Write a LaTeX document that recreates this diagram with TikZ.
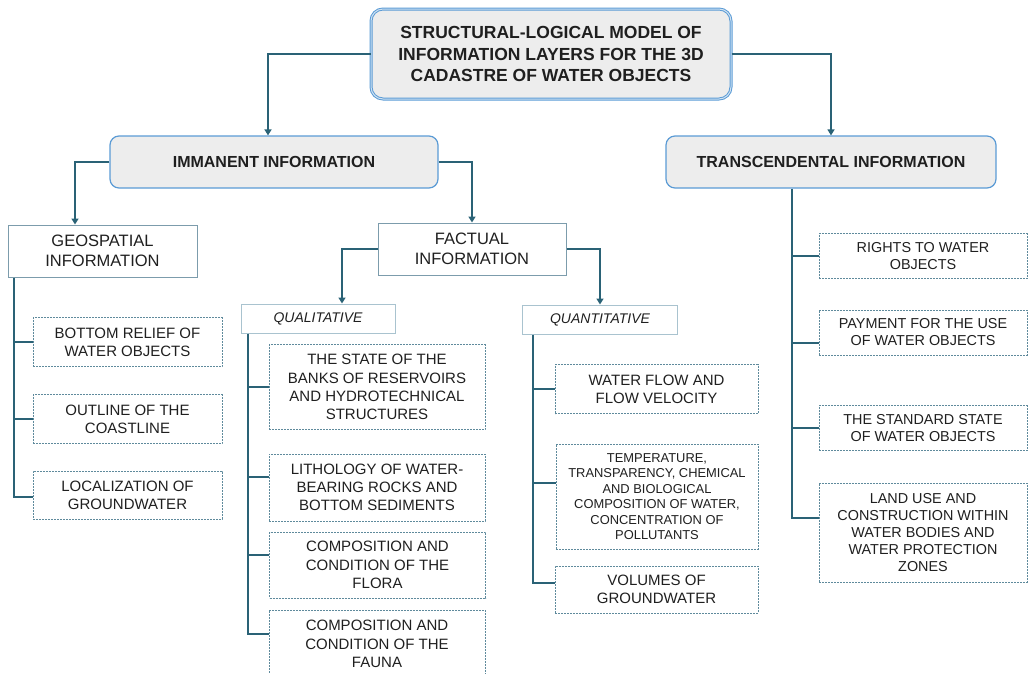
\documentclass[tikz,border=0pt]{standalone}
\usepackage{fontspec}
\setmainfont{Liberation Sans}
\usetikzlibrary{arrows.meta}
\definecolor{conn}{HTML}{2A6276}
\definecolor{topblue}{HTML}{5B9BD5}
\definecolor{topfill}{HTML}{EDEDED}
\definecolor{txt}{HTML}{1F1F1F}
\definecolor{dashc}{HTML}{5F8A9C}
\definecolor{solidc}{HTML}{7C9CAC}
\definecolor{lightc}{HTML}{A9C3CF}
\begin{document}
\begin{tikzpicture}[x=1pt,y=-1pt,
  every node/.style={inner sep=0pt, align=center, text=txt},
  titlebox/.style={draw=topblue, double=topblue!30!white, double distance=1pt, line width=1pt, fill=topfill, rounded corners=12pt, font=\fontsize{17.5}{21.5}\selectfont\bfseries},
  headbox/.style={draw=topblue, line width=1.2pt, fill=topfill, rounded corners=9pt, font=\fontsize{16}{19}\selectfont\bfseries},
  midbox/.style={draw=solidc, line width=1pt, font=\fontsize{16.5}{20}\selectfont},
  subbox/.style={draw=lightc, line width=1pt, font=\fontsize{14}{17}\selectfont\itshape},
  leafbox/.style={draw=dashc, line width=0.9pt, dash pattern=on 2pt off 1pt, font=\fontsize{15}{18.3}\selectfont},
  rleaf/.style={draw=dashc, line width=0.9pt, dash pattern=on 2pt off 1pt, font=\fontsize{14.4}{17}\selectfont},
  sleaf/.style={draw=dashc, line width=0.9pt, dash pattern=on 2pt off 1pt, font=\fontsize{12.9}{15.5}\selectfont},
  link/.style={draw=conn, line width=2pt},
  arr/.style={link, -{Triangle[width=7pt,length=6pt]}}
]
\useasboundingbox (0,0) rectangle (1028,673);
\clip (0,0) rectangle (1028,673);

% top level
\node[titlebox, minimum width=360pt, minimum height=90pt] (title) at (551,54)
  {STRUCTURAL-LOGICAL MODEL OF\\INFORMATION LAYERS FOR THE 3D\\CADASTRE OF WATER OBJECTS};
\node[headbox, minimum width=328pt, minimum height=52pt] (imm) at (274,162) {IMMANENT INFORMATION};
\node[headbox, minimum width=330pt, minimum height=52pt] (trans) at (831,162) {TRANSCENDENTAL INFORMATION};

% second level
\node[midbox, minimum width=189pt, minimum height=52pt] (geo) at (102.5,251) {GEOSPATIAL\\INFORMATION};
\node[midbox, minimum width=188pt, minimum height=52pt] (fact) at (472,249) {FACTUAL\\INFORMATION};
\node[subbox, minimum width=154pt, minimum height=29pt] (qual) at (318,318.5) {QUALITATIVE};
\node[subbox, minimum width=155pt, minimum height=29pt] (quant) at (600,319.5) {QUANTITATIVE};

% geospatial leaves
\node[leafbox, minimum width=189pt, minimum height=49pt] (relief) at (127.5,342) {BOTTOM RELIEF OF\\WATER OBJECTS};
\node[leafbox, minimum width=189pt, minimum height=49pt] (outline) at (127.5,419) {OUTLINE OF THE\\COASTLINE};
\node[leafbox, minimum width=189pt, minimum height=48pt] (local) at (127.5,495) {LOCALIZATION OF\\GROUNDWATER};

% qualitative leaves
\node[leafbox, minimum width=216pt, minimum height=85pt] (banks) at (377,387) {THE STATE OF THE\\BANKS OF RESERVOIRS\\AND HYDROTECHNICAL\\STRUCTURES};
\node[leafbox, minimum width=216pt, minimum height=67pt] (litho) at (377,487.5) {LITHOLOGY OF WATER-\\BEARING ROCKS AND\\BOTTOM SEDIMENTS};
\node[leafbox, minimum width=216pt, minimum height=66pt] (flora) at (377.5,565) {COMPOSITION AND\\CONDITION OF THE\\FLORA};
\node[leafbox, minimum width=216pt, minimum height=68pt] (fauna) at (377,644) {COMPOSITION AND\\CONDITION OF THE\\FAUNA};

% quantitative leaves
\node[leafbox, minimum width=203pt, minimum height=49pt] (flow) at (656.5,389) {WATER FLOW AND\\FLOW VELOCITY};
\node[sleaf, minimum width=202pt, minimum height=105pt] (temp) at (657,496.5) {TEMPERATURE,\\TRANSPARENCY, CHEMICAL\\AND BIOLOGICAL\\COMPOSITION OF WATER,\\CONCENTRATION OF\\POLLUTANTS};
\node[leafbox, minimum width=203pt, minimum height=47pt] (vol) at (656.5,589.5) {VOLUMES OF\\GROUNDWATER};

% transcendental leaves
\node[rleaf, minimum width=208pt, minimum height=45pt] (rights) at (923,256) {RIGHTS TO WATER\\OBJECTS};
\node[rleaf, minimum width=208pt, minimum height=45pt] (pay) at (923,332.5) {PAYMENT FOR THE USE\\OF WATER OBJECTS};
\node[rleaf, minimum width=208pt, minimum height=45pt] (std) at (923,428) {THE STANDARD STATE\\OF WATER OBJECTS};
\node[rleaf, minimum width=208pt, minimum height=99pt] (land) at (923,532.5) {LAND USE AND\\CONSTRUCTION WITHIN\\WATER BODIES AND\\WATER PROTECTION\\ZONES};

% arrows
\draw[arr] (title.west) -| ([xshift=-6pt]imm.north);
\draw[arr] (title.east) -| (trans.north);
\draw[arr] (imm.west) -| ([xshift=-27.5pt]geo.north);
\draw[arr] (imm.east) -| (fact.north);
\draw[arr] (fact.west) -| ([xshift=24pt]qual.north);
\draw[arr] (fact.east) -| (quant.north);

% attachment points
\coordinate (localc) at ([yshift=-2pt]local.west);
\coordinate (lithoc) at ([yshift=10.5pt]litho.west);
\coordinate (florac) at ([yshift=10pt]flora.west);
\coordinate (faunac) at ([yshift=10pt]fauna.west);
\coordinate (tempc) at ([yshift=13.5pt]temp.west);
\coordinate (volc) at ([yshift=6.5pt]vol.west);
\coordinate (payc) at ([yshift=-10.5pt]pay.west);
\coordinate (landc) at ([yshift=14.5pt]land.west);

% geospatial trunk
\coordinate (gt) at ([xshift=-88.5pt]geo.south);
\draw[link] (gt) |- (localc);
\draw[link] (gt |- relief.west) -- (relief.west);
\draw[link] (gt |- outline.west) -- (outline.west);

% qualitative trunk
\coordinate (qt) at ([xshift=-70pt]qual.south);
\draw[link] (qt) |- (faunac);
\draw[link] (qt |- banks.west) -- (banks.west);
\draw[link] (qt |- lithoc) -- (lithoc);
\draw[link] (qt |- florac) -- (florac);

% quantitative trunk
\coordinate (nt) at ([xshift=-67pt]quant.south);
\draw[link] (nt) |- (volc);
\draw[link] (nt |- flow.west) -- (flow.west);
\draw[link] (nt |- tempc) -- (tempc);

% transcendental trunk
\coordinate (tt) at ([xshift=-39pt]trans.south);
\draw[link] (tt) |- (landc);
\draw[link] (tt |- rights.west) -- (rights.west);
\draw[link] (tt |- payc) -- (payc);
\draw[link] (tt |- std.west) -- (std.west);
\end{tikzpicture}
\end{document}
